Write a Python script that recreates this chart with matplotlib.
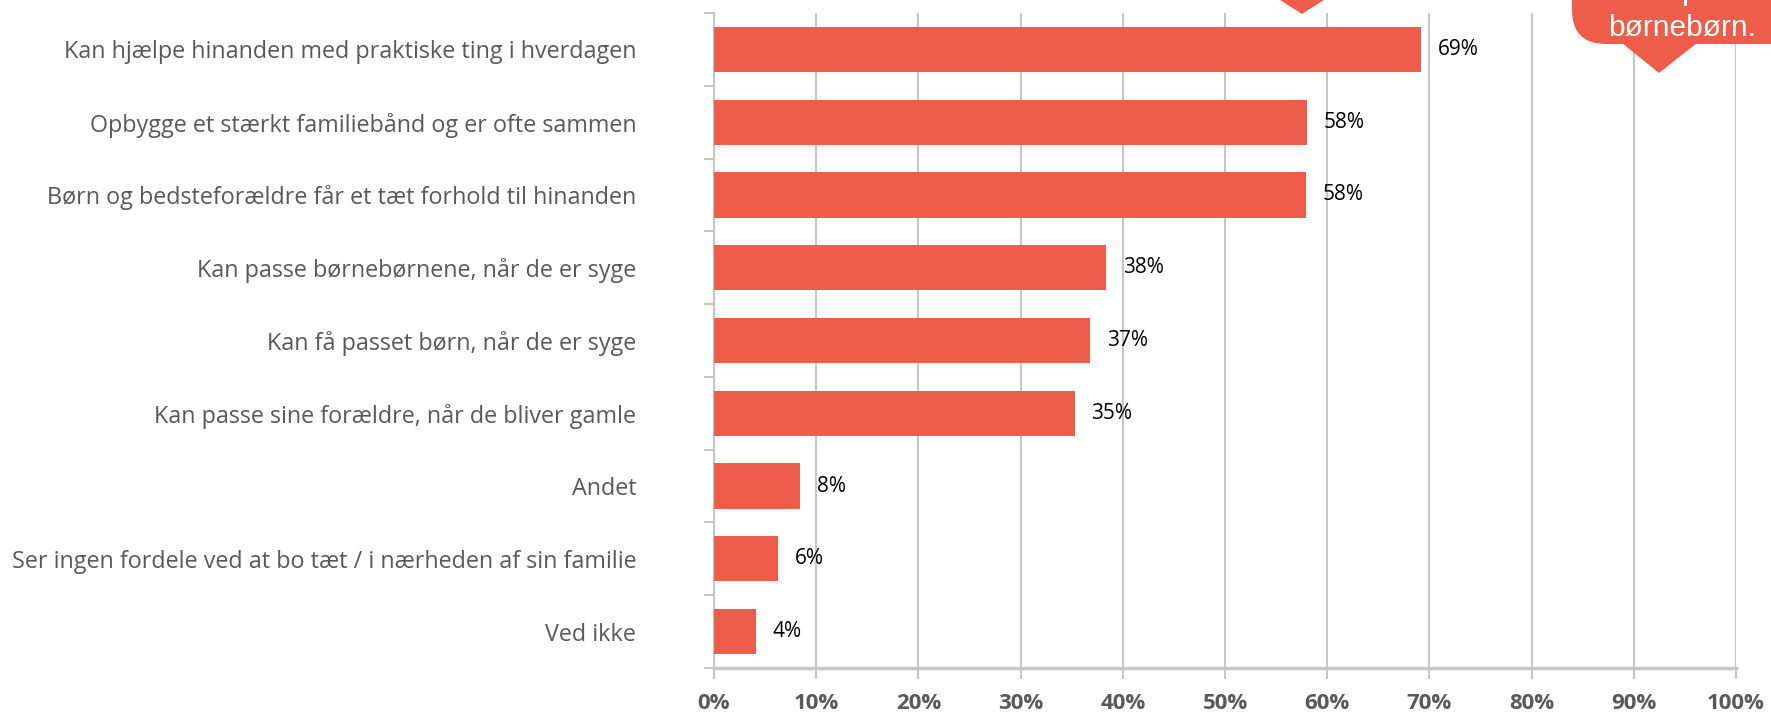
import matplotlib
matplotlib.use('Agg')
import numpy as np
from matplotlib import pyplot as plt
from matplotlib.patches import FancyBboxPatch, Polygon, Rectangle
from matplotlib.transforms import IdentityTransform

# data (share of respondents, %)
categories = [
    'Kan hjælpe hinanden med praktiske ting i hverdagen',
    'Opbygge et stærkt familiebånd og er ofte sammen',
    'Børn og bedsteforældre får et tæt forhold til hinanden',
    'Kan passe børnebørnene, når de er syge',
    'Kan få passet børn, når de er syge',
    'Kan passe sine forældre, når de bliver gamle',
    'Andet',
    'Ser ingen fordele ved at bo tæt / i nærheden af sin familie',
    'Ved ikke',
]
values = [69.2, 58.0, 57.9, 38.4, 36.8, 35.3, 8.4, 6.3, 4.1]
xticks = list(range(0, 101, 10))

BAR_COLOR = '#EE5C4A'
GRID_COLOR = '#C6C6C3'
TEXT_GREY = '#595959'

W, H, DPI = 1771, 714, 100
fig = plt.figure(figsize=(W / DPI, H / DPI), dpi=DPI)
ax = fig.add_axes([714 / W, 1 - 668 / H, (1736 - 714) / W, (668 - 13) / H])

ypos = np.arange(len(categories))
ax.barh(ypos, values, height=0.62, color=BAR_COLOR, zorder=3)
ax.set_ylim(len(categories) - 0.5, -0.5)
ax.set_xlim(0, 100)

for y, v in zip(ypos, values):
    ax.annotate(f'{round(v)}%', (v, y), xytext=(12, 0), textcoords='offset points',
                va='center', ha='left', fontsize=15, color='black', family='Open Sans')

# x axis
ax.set_xticks(xticks)
ax.set_xticklabels([f'{t}%' for t in xticks], fontsize=16, fontweight='bold',
                   color=TEXT_GREY, family='Open Sans')
ax.tick_params(axis='x', length=8, width=1.5, color=GRID_COLOR, pad=10)
ax.grid(axis='x', color=GRID_COLOR, linewidth=1.5, zorder=0)

# y axis: labels at categories, tick marks at boundaries
ax.set_yticks(ypos)
ax.set_yticklabels(categories, fontsize=16.8, color=TEXT_GREY, family='Open Sans')
ax.set_yticks(np.arange(-0.5, len(categories)), minor=True)
ax.tick_params(axis='y', which='major', length=0, pad=56)
ax.tick_params(axis='y', which='minor', length=7, width=1.5, color=GRID_COLOR)

for side in ['top', 'right']:
    ax.spines[side].set_visible(False)
ax.spines['left'].set_color(GRID_COLOR)
ax.spines['left'].set_linewidth(1.5)
ax.spines['bottom'].set_color(GRID_COLOR)
ax.spines['bottom'].set_linewidth(2.5)

# cut-off speech bubbles along the top edge (pixel coordinates)
ident = IdentityTransform()
fig.patches.append(Polygon([(1280, H), (1324, H), (1302, H - 14)], closed=True,
                           facecolor=BAR_COLOR, edgecolor='none', transform=ident, figure=fig))
fig.patches.append(FancyBboxPatch((1572, H - 44), 320, 120,
                                  boxstyle='round,pad=0,rounding_size=34',
                                  facecolor=BAR_COLOR, edgecolor='none', transform=ident, figure=fig))
fig.patches.append(Polygon([(1622, H - 43), (1697, H - 43), (1659, H - 73)], closed=True,
                           facecolor=BAR_COLOR, edgecolor='none', transform=ident, figure=fig))
fig.patches.append(Rectangle((1684, H - 6), 3, 6, facecolor='white', edgecolor='none',
                             transform=ident, figure=fig))
fig.text(1608 / W, 1 - 36 / H, 'børnebørn.', color='white', fontsize=21.5,
         family='Liberation Sans', ha='left', va='baseline')

fig.savefig('out.png', dpi=DPI)
